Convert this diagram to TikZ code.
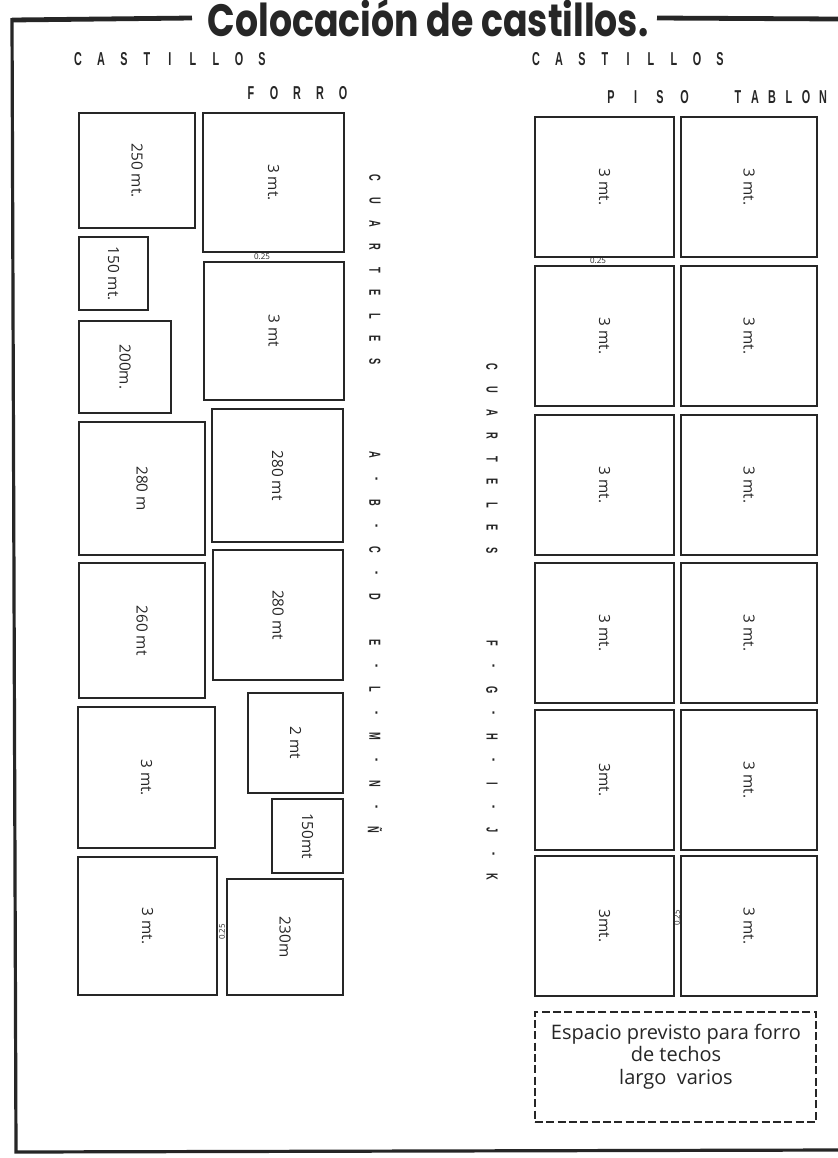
\documentclass[tikz,border=0pt]{standalone}
\usepackage{fontspec}
\usepackage{xcolor}
\usetikzlibrary{fit}
\newfontfamily\rotulo{Open Sans}
\newfontfamily\titulo{Poppins}
\newfontfamily\palo{Liberation Sans}
\definecolor{tinta}{RGB}{38,38,38}
\newcommand{\etq}[1]{\rotatebox{-90}{#1}}
\newcommand{\estr}[1]{\scalebox{0.58}[1]{#1}}

\begin{document}
\begin{tikzpicture}[x=0.75pt,y=-0.75pt,
  castillo/.style={draw=tinta,line width=1.5pt,inner sep=0pt,text=tinta,
    font=\rotulo\fontsize{11.5}{12}\selectfont},
  letra/.style={inner sep=0pt,text=tinta,font=\palo\bfseries\fontsize{14}{14}\selectfont},
  vert/.style={letra,rotate=-90,font=\palo\bfseries\fontsize{12}{12}\selectfont},
  cota/.style={inner sep=0pt,text=tinta,font=\rotulo\fontsize{6}{6}\selectfont},
  espacio/.style={draw=tinta,line width=1.4pt,dash pattern=on 6pt off 2.5pt,inner sep=0pt},
  marco/.style={draw=tinta,line width=2.4pt}]
 \fill[white] (0,0) rectangle (838,1158);
 \useasboundingbox (0,0) rectangle (838,1158);
 % titulo y marco
 \node[anchor=base,inner sep=0pt,text=tinta,font=\titulo\bfseries\fontsize{34}{34}\selectfont] (tit) at (428,36)
   {\scalebox{0.8}[1]{Colocación de castillos.}};
 \draw[marco,line width=3.6pt] (12,20)--(192,18);
 \draw[marco,line width=3.6pt] (657,18)--(838,19);
 \draw[marco] (12,18)--(16,1152)--(838,1150);
 % encabezados
 \foreach \l [count=\i from 0] in {C,A,S,T,I,L,L,O,S}{
   \node[letra] (ca\i) at (78+23*\i,59) {\estr{\l}};
   \node[letra] (cb\i) at (536+23*\i,59) {\estr{\l}};
 }
 \foreach \l [count=\i from 0] in {F,O,R,R,O}
   \node[letra] (fo\i) at (251+23*\i,93) {\estr{\l}};
 \foreach \l [count=\i from 0] in {P,I,S,O}
   \node[letra] (pi\i) at (611+24.5*\i,97) {\estr{\l}};
 \foreach \l [count=\i from 0] in {T,A,B,L,O,N}
   \node[letra] (ta\i) at (738+17*\i,97) {\estr{\l}};
 % castillos forro
 \node[castillo,fit={(79,113)(195,228)}] (f1) {\etq{250 mt.}};
 \node[castillo,fit={(203,113)(344,252)}] (f2) {\etq{3 mt.}};
 \node[castillo,fit={(79,237)(148,310)}] (f3) {\etq{150 mt.}};
 \node[castillo,fit={(204,262)(344,400)}] (f4) {\etq{3 mt}};
 \node[castillo,fit={(79,321)(171,413)}] (f5) {\etq{200m.}};
 \node[castillo,fit={(212,409)(343,542)}] (f6) {\etq{280 mt}};
 \node[castillo,fit={(79,422)(205,555)}] (f7) {\etq{280 m}};
 \node[castillo,fit={(213,550)(343,680)}] (f8) {\etq{280 mt}};
 \node[castillo,fit={(79,563)(205,698)}] (f9) {\etq{260 mt}};
 \node[castillo,fit={(248,693)(343,793)}] (f10) {\etq{2 mt}};
 \node[castillo,fit={(78,707)(215,848)}] (f11) {\etq{3 mt.}};
 \node[castillo,fit={(272,799)(343,873)}] (f12) {\etq{150mt}};
 \node[castillo,fit={(78,857)(217,995)}] (f13) {\etq{3 mt.}};
 \node[castillo,fit={(227,879)(343,995)}] (f14) {\etq{230m}};
 % castillos piso tablon
 \foreach \y/\a/\b [count=\r] in {117/3 mt./3 mt.,266/3 mt./3 mt.,415/3 mt./3 mt.,
     563/3 mt./3 mt.,710/3mt./3 mt.,856/3mt./3 mt.}{
   \node[castillo,fit={(535,\y)(674,\y+140)}] (pa\r) {\etq{\a}};
   \node[castillo,fit={(681,\y)(817,\y+140)}] (pb\r) {\etq{\b}};
 }
 \node[cota] (c1) at (262,257) {0.25};
 \node[cota] (c2) at (598,261) {0.25};
 \node[cota,rotate=90] (c3) at (222,932) {0.25};
 \node[cota,rotate=90] (c4) at (677,918) {0.25};
 % cuarteles
 \foreach \l [count=\i from 0] in {C,U,A,R,T,E,L,E,S}{
   \node[vert] (qa\i) at (375,178+23*\i) {\estr{\l}};
   \node[vert] (qb\i) at (492,367+23*\i) {\estr{\l}};
 }
 \foreach \l [count=\i from 0] in {A,-,B,-,C,-,D}
   \node[vert] (ad\i) at (375,455+23.7*\i) {\estr{\l}};
 \foreach \l [count=\i from 0] in {E,-,L,-,M,-,N,-,Ñ}
   \node[vert] (en\i) at (375,643+23.4*\i) {\estr{\l}};
 \foreach \l [count=\i from 0] in {F,-,G,-,H,-,I,-,J,-,K}
   \node[vert] (fk\i) at (492,643+23.4*\i) {\estr{\l}};
 % espacio previsto
 \node[espacio,fit={(535,1012)(816,1122)}] (esp) {};
 \node[anchor=north,align=center,text=tinta,font=\rotulo\fontsize{15}{17}\selectfont] (espt)
   at (676,1019) {Espacio previsto para forro\\de techos\\largo~~varios};
\end{tikzpicture}
\end{document}
